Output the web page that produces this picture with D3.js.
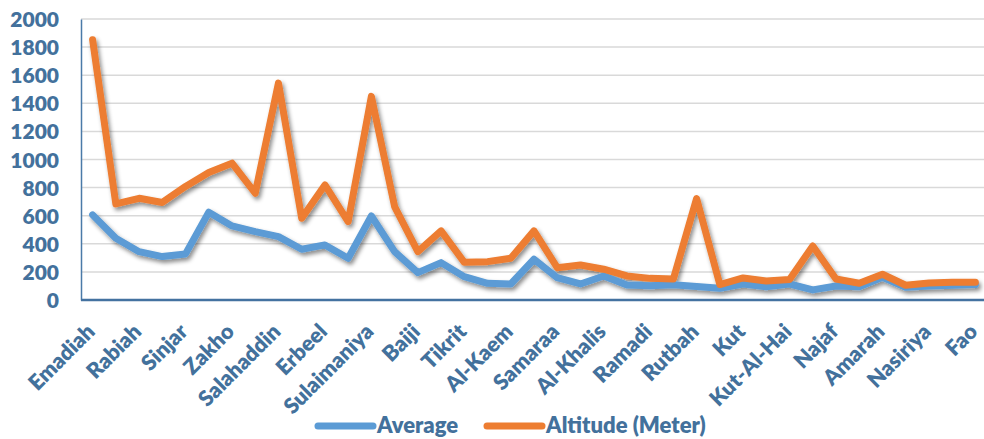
<!DOCTYPE html>
<html>
<head>
<meta charset="utf-8">
<script src="https://cdn.jsdelivr.net/npm/d3@7"></script>
<style>
  html, body { margin: 0; padding: 0; background: #fff; }
  svg { display: block; font-family: Lato, "Open Sans", sans-serif; font-weight: 700; }
</style>
</head>
<body>
<svg id="chart" width="984" height="439"></svg>
<script>
// Stations along the x axis (only every other one carries a label)
const stations = [
  "Emadiah", "", "Rabiah", "", "Sinjar", "", "Zakho", "", "Salahaddin", "",
  "Erbeel", "", "Sulaimaniya", "", "Baiji", "", "Tikrit", "", "Al-Kaem", "",
  "Samaraa", "", "Al-Khalis", "", "Ramadi", "", "Rutbah", "", "Kut", "",
  "Kut-Al-Hai", "", "Najaf", "", "Amarah", "", "Nasiriya", "", "Fao"
];

// Series values
const average = [
  606, 439, 344, 309, 328, 625, 527, 487, 451, 361,
  392, 297, 598, 344, 195, 266, 166, 119, 114, 290,
  159, 114, 171, 107, 102, 108, 96, 83, 114, 95,
  114, 72, 100, 95, 162, 90, 100, 105, 110
];
const altitude = [
  1852, 684, 724, 694, 808, 907, 974, 760, 1544, 582,
  819, 558, 1449, 665, 344, 492, 268, 273, 297, 492,
  230, 249, 219, 171, 154, 150, 722, 110, 157, 135,
  146, 384, 149, 119, 183, 105, 121, 126, 126
];

const yTicks = [0, 200, 400, 600, 800, 1000, 1200, 1400, 1600, 1800, 2000];

const seriesNames = ["Average", "Altitude (Meter)"];
const seriesColors = ["#5B9BD5", "#ED7D31"];
const textColor = "#43719C";

const svg = d3.select("#chart");
const m = { left: 81, right: 987, top: 19, bottom: 300 };

const x = d3.scalePoint()
  .domain(d3.range(stations.length))
  .range([m.left, m.right])
  .padding(0.5);

const y = d3.scaleLinear().domain([0, 2000]).range([m.bottom, m.top]);

// soft shadow under the lines
const defs = svg.append("defs");
const f = defs.append("filter").attr("id", "shadow")
  .attr("x", "-5%").attr("y", "-10%").attr("width", "110%").attr("height", "130%");
f.append("feDropShadow")
  .attr("dx", 2).attr("dy", 3).attr("stdDeviation", 2)
  .attr("flood-color", "#000").attr("flood-opacity", 0.45);

// horizontal gridlines
svg.append("g")
  .selectAll("line")
  .data(yTicks.filter(d => d > 0))
  .join("line")
  .attr("x1", m.left).attr("x2", 984)
  .attr("y1", d => y(d)).attr("y2", d => y(d))
  .attr("stroke", "#D9D9D9").attr("stroke-width", 1.5);

// y axis
const yAxis = svg.append("g")
  .attr("transform", `translate(${m.left},0)`)
  .call(d3.axisLeft(y).tickValues(yTicks).tickFormat(d3.format("d")).tickSize(0).tickPadding(22));
yAxis.select(".domain").attr("stroke", "#4A7AA8").attr("stroke-width", 1.5);
yAxis.selectAll("text")
  .attr("fill", textColor)
  .attr("font-family", "Lato, sans-serif")
  .attr("font-weight", 800)
  .attr("font-size", 21)
  .attr("dy", "0.36em");

// x axis
const xAxis = svg.append("g")
  .attr("transform", `translate(0,${m.bottom})`)
  .call(d3.axisBottom(x).tickSize(0).tickFormat(i => stations[i]));
xAxis.select(".domain")
  .attr("d", `M${m.left},0H984`)
  .attr("stroke", "#4472A0").attr("stroke-width", 2.5);
xAxis.selectAll("text")
  .attr("fill", textColor)
  .attr("font-family", "Lato, sans-serif")
  .attr("font-weight", 800)
  .attr("font-size", 21.5)
  .attr("text-anchor", "end")
  .attr("dy", 0)
  .attr("y", 0)
  .attr("transform", "translate(3,33) rotate(-45)");

// lines
const line = d3.line().x((d, i) => x(i)).y(d => y(d));
const plot = svg.append("g").attr("filter", "url(#shadow)");
[average, altitude].forEach((vals, k) => {
  plot.append("path")
    .datum(vals)
    .attr("d", line)
    .attr("fill", "none")
    .attr("stroke", seriesColors[k])
    .attr("stroke-width", 7)
    .attr("stroke-linejoin", "round")
    .attr("stroke-linecap", "round");
});

// legend
const legendX = [318, 487];
const legend = svg.append("g");
seriesNames.forEach((name, k) => {
  legend.append("line")
    .attr("x1", legendX[k]).attr("x2", legendX[k] + 55)
    .attr("y1", 426).attr("y2", 426)
    .attr("stroke", seriesColors[k])
    .attr("stroke-width", 7)
    .attr("stroke-linecap", "round");
  legend.append("text")
    .attr("x", legendX[k] + 59)
    .attr("y", 433)
    .attr("fill", textColor)
    .attr("font-family", "Lato, sans-serif")
    .attr("font-weight", 800)
    .attr("font-size", 22)
    .text(name);
});
</script>
</body>
</html>
